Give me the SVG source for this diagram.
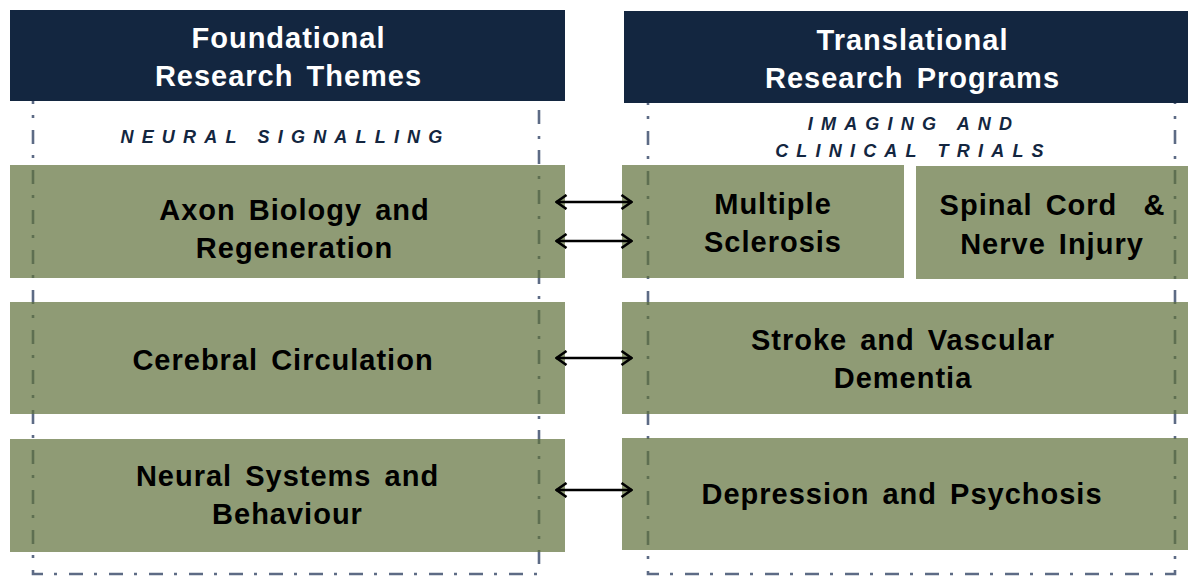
<svg xmlns="http://www.w3.org/2000/svg" width="1188" height="576" viewBox="0 0 1188 576">
<defs>
<style>
.frame{fill:none;stroke:#5d6b85;stroke-width:2.6;stroke-dasharray:14 12 3 11}
.hdr{fill:#132640}
.hdrt{font-family:"Liberation Sans",Arial,sans-serif;font-weight:bold;font-size:29px;fill:#ffffff;text-anchor:middle;letter-spacing:1px;word-spacing:4px}
.sub{font-family:"Liberation Sans",Arial,sans-serif;font-weight:bold;font-style:italic;font-size:18px;fill:#132640;text-anchor:middle;letter-spacing:8.2px}
.box{fill:#5f703b;fill-opacity:0.7}
.bt{font-family:"Liberation Sans",Arial,sans-serif;font-weight:bold;font-size:29px;fill:#000000;text-anchor:middle;letter-spacing:1px;word-spacing:4px}
.arr{fill:none;stroke:#000000;stroke-width:2.6;marker-end:url(#ah);marker-start:url(#ah)}
</style>
<marker id="ah" viewBox="0 0 13 16" refX="12" refY="8" markerWidth="13" markerHeight="16" markerUnits="userSpaceOnUse" orient="auto-start-reverse">
<path d="M1.5,1 L11.5,8 L1.5,15" fill="none" stroke="#000000" stroke-width="2.6"/>
</marker>
</defs>

<g id="frames">
<rect class="frame" x="33" y="96" width="506" height="478"/>
<rect class="frame" x="648" y="97" width="527" height="477"/>
</g>

<g id="header-foundational">
<rect class="hdr" x="10" y="10" width="555" height="91"/>
<text class="hdrt" x="288.5" y="48">Foundational</text>
<text class="hdrt" x="288.5" y="86">Research Themes</text>
</g>

<g id="header-translational">
<rect class="hdr" x="624" y="11" width="564" height="92"/>
<text class="hdrt" x="912.5" y="50">Translational</text>
<text class="hdrt" x="912.5" y="88">Research Programs</text>
</g>

<g id="sub-neural">
<text class="sub" x="285.5" y="143">NEURAL SIGNALLING</text>
</g>
<g id="sub-imaging">
<text class="sub" x="914" y="130">IMAGING AND</text>
<text class="sub" x="913.5" y="157">CLINICAL TRIALS</text>
</g>

<g id="axon">
<rect class="box" x="10" y="165" width="555" height="113"/>
<text class="bt" x="294.5" y="220">Axon Biology and</text>
<text class="bt" x="294.5" y="258">Regeneration</text>
</g>

<g id="cerebral">
<rect class="box" x="10" y="302" width="555" height="112"/>
<text class="bt" x="283" y="370">Cerebral Circulation</text>
</g>

<g id="neural-systems">
<rect class="box" x="10" y="439" width="555" height="113"/>
<text class="bt" x="287.5" y="486">Neural Systems and</text>
<text class="bt" x="287.5" y="524">Behaviour</text>
</g>

<g id="ms">
<rect class="box" x="622" y="165" width="282" height="113"/>
<text class="bt" x="773" y="214">Multiple</text>
<text class="bt" x="773" y="252">Sclerosis</text>
</g>

<g id="spinal">
<rect class="box" x="916" y="166" width="272" height="113"/>
<text class="bt" x="1052.5" y="215" xml:space="preserve">Spinal Cord  &amp;</text>
<text class="bt" x="1052" y="254">Nerve Injury</text>
</g>

<g id="stroke">
<rect class="box" x="622" y="302" width="566" height="112"/>
<text class="bt" x="903" y="350">Stroke and Vascular</text>
<text class="bt" x="903" y="388">Dementia</text>
</g>

<g id="depression">
<rect class="box" x="622" y="438" width="566" height="112"/>
<text class="bt" x="902" y="504">Depression and Psychosis</text>
</g>

<g id="connectors">
<path class="arr" d="M556,202 H632"/>
<path class="arr" d="M556,241 H632"/>
<path class="arr" d="M556,358 H632"/>
<path class="arr" d="M556,490 H632"/>
</g>
</svg>
